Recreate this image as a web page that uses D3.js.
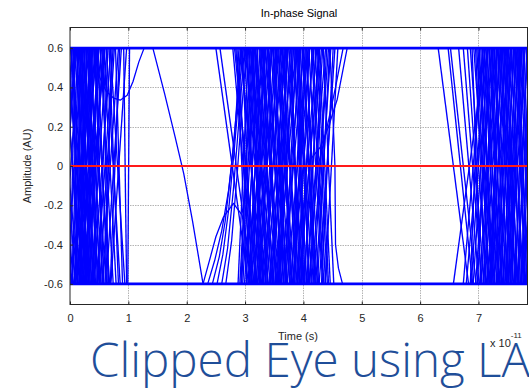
<!DOCTYPE html>
<html>
<head>
<meta charset="utf-8">
<script src="https://cdn.jsdelivr.net/npm/d3@7"></script>
<style>
  body { margin: 0; background: #fff; }
  svg { display: block; }
</style>
</head>
<body>
<svg id="chart" width="529" height="390"></svg>
<script>
// Clipping level of the limiting amplifier and the decision threshold
const clipLevel = 0.6;
const thresholdLevel = 0;

// Axis ticks (time in units of 1e-11 s)
const xTicks = [0, 1, 2, 3, 4, 5, 6, 7];
const xTickLabels = ["0", "1", "2", "3", "4", "5", "6", "7"];
const yTicks = [-0.6, -0.4, -0.2, 0, 0.2, 0.4, 0.6];
const yTickLabels = ["-0.6", "-0.4", "-0.2", "0", "0.2", "0.4", "0.6"];

// Transitions between the clipped rails: [time at +clip, time at -clip]
const band1Edges = [
  [-0.28, 0.06], [-0.2, 0.14], [-0.12, 0.22], [-0.06, 0.3], [0.01, 0.35], [0.04, -0.27],
  [0.07, 0.41], [0.1, -0.19], [0.13, 0.44], [0.15, -0.12], [0.18, 0.5], [0.2, -0.05],
  [0.23, 0.53], [0.25, 0.02], [0.28, 0.57], [0.3, 0.08], [0.33, 0.62], [0.35, 0.12],
  [0.37, 0.03], [0.39, 0.17], [0.41, 0.68], [0.44, 0.2], [0.46, 0.1], [0.49, 0.26],
  [0.52, 0.74], [0.54, 0.15], [0.57, 0.31], [0.6, 0.22], [0.63, 0.36], [0.67, 0.83],
  [0.7, 0.4], [0.74, 0.46], [0.78, 0.9], [0.83, 0.55], [0.88, 0.62], [0.92, 0.97],
  [0.97, 0.7], [1.02, 0.99], [0.06, 0.19], [0.16, 0.29], [0.27, 0.39], [0.0, -0.1],
  [0.11, 0.25], [0.21, 0.33], [0.32, 0.47], [0.42, 0.58], [0.47, 0.64], [0.09, 0.0],
  [0.19, 0.08], [0.29, 0.18], [0.58, 0.79], [0.62, 0.86],
  [-0.24, 0.02], [-0.16, 0.09], [-0.09, 0.17], [-0.03, 0.24], [0.02, 0.28], [0.05, 0.13],
  [0.08, -0.15], [0.12, 0.31], [0.14, 0.04], [0.17, 0.37], [0.22, 0.1], [0.24, 0.42],
  [0.26, 0.16], [0.31, 0.45], [0.34, 0.23], [0.36, 0.51], [0.38, 0.07], [0.4, 0.28],
  [0.43, 0.13], [0.45, 0.55], [0.48, 0.34], [0.5, 0.19], [0.53, 0.4], [0.56, 0.66],
  [0.59, 0.27], [0.65, 0.48], [0.72, 0.6], [0.03, -0.06], [0.2, 0.27], [0.36, 0.32],
  [0.69, 0.94], [0.76, 0.51], [0.85, 0.69]
];

const band2Edges = [
  [2.5, 3.06], [2.57, 3.13],
  [2.79, 3.15], [2.82, 3.21], [2.88, 3.09], [2.91, 3.31], [2.98, 3.24], [3.01, 3.4],
  [3.07, 3.32], [3.1, 3.47], [3.16, 3.39], [3.18, 3.55], [3.25, 3.48], [3.29, 3.61],
  [3.32, 3.54], [3.38, 3.7], [3.4, 3.63], [3.47, 3.77], [3.49, 3.71], [3.56, 3.84],
  [3.6, 3.79], [3.62, 3.93], [3.69, 3.86], [3.71, 4.0], [3.78, 3.94], [3.83, 4.06],
  [3.85, 4.01], [3.91, 4.15], [3.95, 4.09], [3.98, 4.22], [4.04, 4.26], [4.09, 4.33],
  [4.14, 4.35], [4.2, 4.41], [4.27, 4.46], [4.34, 4.52], [3.14, 3.3], [3.52, 3.66], [3.88, 4.03],
  [3.13, 2.91], [3.19, 2.96], [3.26, 2.99], [3.3, 3.05], [3.36, 3.08], [3.43, 3.14],
  [3.46, 3.19], [3.54, 3.21], [3.57, 3.28], [3.65, 3.3], [3.7, 3.37], [3.74, 3.42],
  [3.81, 3.44], [3.87, 3.51], [3.9, 3.56], [3.96, 3.62], [4.01, 3.65], [4.08, 3.72],
  [4.11, 3.78], [4.18, 3.81], [4.23, 3.89], [4.28, 3.92], [4.31, 4.0], [4.38, 4.05],
  [4.43, 4.14], [4.47, 4.21], [4.54, 4.27], [4.59, 4.37], [3.34, 3.17], [3.73, 3.55], [4.05, 3.85],
  [2.84, 3.18], [2.86, 3.03], [2.93, 3.27], [2.95, 3.12], [3.0, 3.35], [3.04, 3.19],
  [3.09, 3.43], [3.12, 3.26], [3.17, 3.5], [3.21, 3.36], [3.27, 3.58], [3.31, 3.44],
  [3.35, 3.66], [3.39, 3.52], [3.44, 3.73], [3.48, 3.6], [3.53, 3.81], [3.58, 3.69],
  [3.64, 3.89], [3.67, 3.76], [3.75, 3.97], [3.8, 3.9], [3.89, 4.11], [3.93, 3.99],
  [4.0, 4.18], [4.06, 4.2], [4.16, 4.38], [4.24, 4.43],
  [3.06, 2.88], [3.09, 2.93], [3.16, 2.94], [3.22, 3.02], [3.28, 3.07], [3.33, 3.11],
  [3.39, 3.16], [3.45, 3.24], [3.5, 3.25], [3.55, 3.34], [3.61, 3.35], [3.67, 3.46],
  [3.72, 3.48], [3.77, 3.57], [3.83, 3.59], [3.88, 3.68], [3.93, 3.7], [3.99, 3.79],
  [4.03, 3.83], [4.1, 3.9], [4.15, 3.95], [4.21, 4.02], [4.26, 4.07], [4.33, 4.11],
  [4.4, 4.18], [4.45, 4.24], [4.51, 4.31]
];

const band3Edges = [
  [6.31, 6.83], [6.48, 6.9], [6.52, 6.96], [6.66, 7.01], [6.74, 7.06], [6.81, 7.09],
  [6.86, 7.14], [6.92, 7.2], [6.97, 7.18], [7.01, 7.27], [7.06, 7.25], [7.1, 7.36],
  [7.15, 7.33], [7.19, 7.44], [7.24, 7.4], [7.27, 7.51], [7.33, 7.49], [7.37, 7.6],
  [7.41, 7.56], [7.46, 7.68], [7.5, 7.66], [7.55, 7.77], [7.6, 7.74], [7.64, 7.86],
  [7.69, 7.83], [7.73, 7.95], [7.78, 7.92], [7.82, 8.02], [7.07, 7.22], [7.44, 7.59],
  [7.12, 6.57], [7.08, 6.74], [7.15, 6.79], [7.17, 6.91], [7.23, 6.95], [7.28, 7.02],
  [7.31, 7.04], [7.38, 7.11], [7.42, 7.16], [7.48, 7.19], [7.52, 7.26], [7.57, 7.3],
  [7.62, 7.35], [7.66, 7.41], [7.7, 7.45], [7.75, 7.5], [7.8, 7.54], [7.85, 7.61],
  [7.9, 7.66], [7.94, 7.72], [7.98, 7.78], [7.35, 7.21], [7.71, 7.57],
  [6.89, 7.04], [6.95, 7.12], [6.99, 7.23], [7.04, 7.16], [7.09, 7.31], [7.13, 7.28],
  [7.18, 7.39], [7.22, 7.35], [7.26, 7.47], [7.3, 7.43], [7.35, 7.55], [7.39, 7.52],
  [7.43, 7.64], [7.48, 7.62], [7.52, 7.72], [7.57, 7.7], [7.62, 7.81], [7.67, 7.79],
  [7.71, 7.9], [7.76, 7.88],
  [7.02, 6.86], [7.11, 6.88], [7.2, 6.98], [7.25, 7.08], [7.33, 7.09], [7.4, 7.2],
  [7.45, 7.23], [7.5, 7.33], [7.55, 7.38], [7.6, 7.43], [7.64, 7.48], [7.68, 7.52],
  [7.73, 7.55], [7.78, 7.63], [7.83, 7.68], [7.88, 7.74], [7.92, 7.76], [7.96, 7.82]
];

// Traces that bend inside the eye: [time, amplitude] samples
const curvedTraces = [
  [[0.42, 0.6], [0.51, 0.45], [0.62, 0.38], [0.75, 0.345], [0.86, 0.335], [0.98, 0.36], [1.08, 0.43], [1.18, 0.53], [1.27, 0.6]],
  [[1.42, 0.6], [1.62, 0.37], [1.8, 0.15], [1.95, -0.04], [2.1, -0.28], [2.28, -0.6]],
  [[2.28, -0.6], [2.4, -0.47], [2.5, -0.36], [2.63, -0.26], [2.8, -0.19], [2.95, -0.25], [3.03, -0.4], [3.09, -0.6]],
  [[2.36, -0.6], [2.48, -0.48], [2.6, -0.33], [2.72, -0.12], [2.82, 0.15], [2.92, 0.6]],
  [[2.44, -0.6], [2.56, -0.46], [2.66, -0.28], [2.76, -0.02], [2.86, 0.3], [2.94, 0.6]],
  [[2.52, -0.6], [2.62, -0.45], [2.72, -0.22], [2.82, 0.1], [2.92, 0.45], [2.97, 0.6]],
  [[2.6, -0.6], [2.7, -0.42], [2.8, -0.12], [2.9, 0.25], [2.99, 0.6]],
  [[2.67, -0.6], [2.77, -0.38], [2.87, -0.02], [2.96, 0.35], [3.03, 0.6]],
  [[4.75, 0.6], [4.58, 0.34], [4.43, 0.2], [4.3, 0.1], [4.11, 0.03], [4.04, -0.2], [3.96, -0.6]],
  [[4.68, 0.6], [4.55, 0.4], [4.45, 0.26], [4.35, 0.12], [4.25, 0.0], [4.18, -0.25], [4.1, -0.6]],
  [[4.45, 0.6], [4.5, 0.3], [4.54, 0.0], [4.55, -0.4], [4.6, -0.52], [4.67, -0.6]]
];

const timeSpan = [0, 7.84];

// ---- layout ----
const svg = d3.select("#chart");
const x = d3.scaleLinear().domain(timeSpan).range([70, 527.5]);
const y = d3.scaleLinear().domain([-0.705, 0.705]).range([304.5, 27.5]);
const fontAxis = "'Liberation Sans', Arial, Helvetica, sans-serif";
const axisColor = "#262626";
const traceColor = "#0000ff";

svg.append("defs").append("clipPath").attr("id", "plotClip")
  .append("rect")
  .attr("x", x(timeSpan[0])).attr("y", y(0.705))
  .attr("width", x(timeSpan[1]) - x(timeSpan[0]))
  .attr("height", y(-0.705) - y(0.705));

// grid
const grid = svg.append("g").attr("stroke", "#b4b4b4").attr("stroke-width", 1)
  .attr("stroke-dasharray", "1.5,1");
grid.selectAll("line.gx").data(xTicks.filter(d => d > 0)).join("line")
  .attr("x1", d => Math.round(x(d)) + 0.5).attr("x2", d => Math.round(x(d)) + 0.5)
  .attr("y1", y(0.705)).attr("y2", y(-0.705));
grid.selectAll("line.gy").data(yTicks).join("line")
  .attr("x1", x(timeSpan[0])).attr("x2", x(timeSpan[1]))
  .attr("y1", d => Math.round(y(d)) + 0.5).attr("y2", d => Math.round(y(d)) + 0.5);

const plot = svg.append("g").attr("clip-path", "url(#plotClip)");
const line = d3.line().x(d => x(d[0])).y(d => y(d[1]));

const edges = band1Edges.concat(band2Edges, band3Edges);
plot.append("g").attr("fill", "none").attr("stroke", traceColor).attr("stroke-width", 1.35)
  .selectAll("path").data(edges).join("path")
  .attr("d", e => line([[e[0], clipLevel], [e[1], -clipLevel]]));

plot.append("g").attr("fill", "none").attr("stroke", traceColor).attr("stroke-width", 1.3)
  .attr("stroke-linejoin", "round")
  .selectAll("path").data(curvedTraces).join("path")
  .attr("d", line);

// clipped rails
plot.append("g").attr("stroke", traceColor).attr("stroke-width", 2.8)
  .selectAll("line").data([clipLevel, -clipLevel]).join("line")
  .attr("x1", x(timeSpan[0])).attr("x2", x(timeSpan[1]))
  .attr("y1", d => y(d)).attr("y2", d => y(d));

// decision threshold
plot.append("line")
  .attr("x1", x(timeSpan[0])).attr("x2", x(timeSpan[1]))
  .attr("y1", y(thresholdLevel)).attr("y2", y(thresholdLevel))
  .attr("stroke", "#ff1a1a").attr("stroke-width", 2);

// axes box
const axes = svg.append("g");
axes.append("rect")
  .attr("x", x(timeSpan[0])).attr("y", y(0.705))
  .attr("width", x(timeSpan[1]) - x(timeSpan[0]))
  .attr("height", y(-0.705) - y(0.705))
  .attr("fill", "none").attr("stroke", axisColor).attr("stroke-width", 1);

// bottom axis (inward ticks)
const xAxis = d3.axisBottom(x).tickValues(xTicks).tickFormat((d, i) => xTickLabels[i])
  .tickSizeInner(-3).tickSizeOuter(0).tickPadding(10);
const gx = axes.append("g").attr("transform", `translate(0,${y(-0.705)})`).call(xAxis);
gx.select(".domain").remove();
gx.selectAll("line").attr("stroke", axisColor);
gx.selectAll("text").attr("font-family", fontAxis).attr("font-size", 11).attr("fill", axisColor);

// top ticks
const xTop = d3.axisTop(x).tickValues(xTicks).tickFormat("").tickSizeInner(-3).tickSizeOuter(0);
const gxt = axes.append("g").attr("transform", `translate(0,${y(0.705)})`).call(xTop);
gxt.select(".domain").remove();
gxt.selectAll("line").attr("stroke", axisColor);

// left axis
const yAxis = d3.axisLeft(y).tickValues(yTicks).tickFormat((d, i) => yTickLabels[i])
  .tickSizeInner(-3).tickSizeOuter(0).tickPadding(7);
const gy = axes.append("g").attr("transform", `translate(${x(timeSpan[0])},0)`).call(yAxis);
gy.select(".domain").remove();
gy.selectAll("line").attr("stroke", axisColor);
gy.selectAll("text").attr("font-family", fontAxis).attr("font-size", 11).attr("fill", axisColor);

// titles
svg.append("text").attr("x", 299).attr("y", 17).attr("text-anchor", "middle")
  .attr("font-family", fontAxis).attr("font-size", 11).attr("fill", "#000")
  .text("In-phase Signal");
svg.append("text").attr("transform", "translate(31,166) rotate(-90)").attr("text-anchor", "middle")
  .attr("font-family", fontAxis).attr("font-size", 11).attr("fill", axisColor)
  .text("Amplitude (AU)");
svg.append("text").attr("x", 298).attr("y", 340).attr("text-anchor", "middle")
  .attr("font-family", fontAxis).attr("font-size", 11).attr("fill", axisColor)
  .text("Time (s)");
const expo = svg.append("text").attr("x", 490).attr("y", 347)
  .attr("font-family", fontAxis).attr("font-size", 11).attr("fill", axisColor);
expo.append("tspan").text("x 10");
expo.append("tspan").attr("dy", -9).attr("font-size", 8).text("-11");

// slide caption
const caption = svg.append("text").attr("x", 90).attr("y", 377)
  .attr("font-family", "'Open Sans', 'Noto Sans', sans-serif").attr("font-weight", 300)
  .attr("font-size", 50).attr("fill", "#1f4e99")
  .text("Clipped Eye using LA");
const w = caption.node().getComputedTextLength();
caption.attr("font-size", 50 * 440 / w);
</script>
</body>
</html>
